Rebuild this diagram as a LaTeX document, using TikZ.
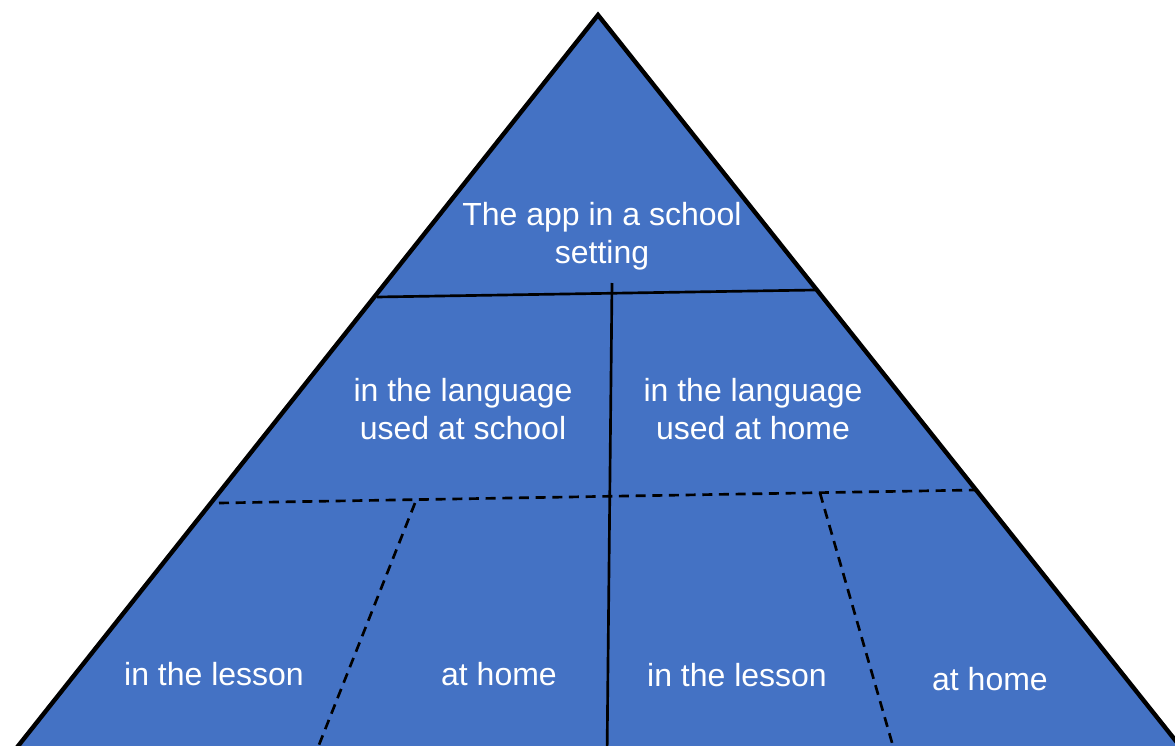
\documentclass[tikz,border=0pt]{standalone}
\usepackage{fontspec}
\setmainfont{Liberation Sans}
\begin{document}
\begin{tikzpicture}[x=0.75pt,y=-0.75pt,
  lbl/.style={text=white,align=center,font=\fontsize{24pt}{28.5pt}\selectfont,inner sep=0pt},
  solidline/.style={draw=black,line width=2pt},
  dashline/.style={draw=black,line width=2pt,dash pattern=on 7.5pt off 5pt}]
\useasboundingbox (0,0) rectangle (1175,746);
\clip (0,0) rectangle (1175,746);
\coordinate (apex) at (598,15);
\coordinate (bl) at (7,760);
\coordinate (br) at (1191,760);
\fill[fill={rgb,255:red,68;green,114;blue,196}] (apex) -- (br) -- (bl) -- cycle;
% solid lines
\coordinate (s1) at (377,297);
\coordinate (s2) at (815,290);
\coordinate (v1) at (612,283);
\coordinate (v2) at (607,760);
\draw[solidline] (s1) -- (s2);
\draw[solidline] (v1) -- (v2);
% dashed lines
\coordinate (d1) at (219,503);
\coordinate (d2) at (975,490);
\coordinate (l1) at (415,503);
\coordinate (l2) at (313,760);
\coordinate (r1) at (820,493);
\coordinate (r2) at (897,760);
\draw[dashline] (d1) -- (d2);
\draw[dashline] (l1) -- (l2);
\draw[dashline] (r1) -- (r2);
% outline
\draw[draw=black,line width=3.3pt,line join=miter] (bl) -- (apex) -- (br);
% labels
\node[lbl] (top) at (602,236) {The app in a school\\setting};
\node[lbl] (ls) at (463,409) {in the language\\used at school};
\node[lbl] (lh) at (753,409) {in the language\\used at home};
\node[lbl] (a) at (214,674) {in the lesson};
\node[lbl] (b) at (499,674) {at home};
\node[lbl] (c) at (737,675) {in the lesson};
\node[lbl] (d) at (990,679) {at home};
\end{tikzpicture}
\end{document}
